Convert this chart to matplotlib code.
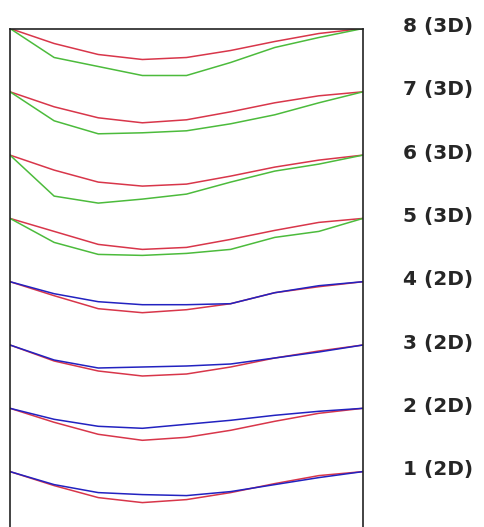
import matplotlib
matplotlib.use("Agg")
import matplotlib.pyplot as plt

# 9 sample points per curve, depth of dip below each curve's baseline
steps = list(range(9))
labels = ["1 (2D)", "2 (2D)", "3 (2D)", "4 (2D)", "5 (3D)", "6 (3D)", "7 (3D)", "8 (3D)"]

red_1 = [0, 14, 26, 31, 28, 21, 12, 4, 0]
red_2 = [0, 14, 26, 32, 29, 22, 13, 5, 0]
red_3 = [0, 16, 26, 31, 29, 22, 13, 6, 0]
red_4 = [0, 14, 27, 31, 28, 22, 11, 5, 0]
red_5 = [0, 13, 26, 31, 29, 21, 12, 4, 0]
red_6 = [0, 15, 27, 31, 29, 21, 12, 5, 0]
red_7 = [0, 15, 26, 31, 28, 20, 11, 4, 0]
red_8 = [0, 15, 26, 31, 29, 22, 13, 5, 0]

other_1 = [0, 13, 21, 23, 24, 20, 13, 6, 0]
other_2 = [0, 11, 18, 20, 16, 12, 7, 3, 0]
other_3 = [0, 15, 23, 22, 21, 19, 13, 7, 0]
other_4 = [0, 12, 20, 23, 23, 22, 11, 4, 0]
other_5 = [0, 24, 36, 37, 35, 31, 19, 13, 0]
other_6 = [0, 41, 48, 44, 39, 27, 16, 9, 0]
other_7 = [0, 29, 42, 41, 39, 32, 23, 11, 0]
other_8 = [0, 29, 38, 47, 47, 34, 19, 9, 0]

reds = [red_1, red_2, red_3, red_4, red_5, red_6, red_7, red_8]
others = [other_1, other_2, other_3, other_4, other_5, other_6, other_7, other_8]

SPACING = 63.3
RED = "#d8364a"
GREEN = "#4cbb3c"
BLUE = "#2222c0"

fig = plt.figure(figsize=(4.85, 5.27), dpi=100)
top_px, bottom_px = 28.5, 527
ax = fig.add_axes([10 / 485, 0, 353 / 485, (bottom_px - top_px) / 527])

for i, (r, o) in enumerate(zip(reds, others)):
    base = i * SPACING
    col = BLUE if i < 4 else GREEN
    ax.plot(steps, [base - v for v in r], color=RED, lw=1.1)
    ax.plot(steps, [base - v for v in o], color=col, lw=1.1)
    ax.text(1.113, base + 2, labels[i], transform=ax.get_yaxis_transform(),
            va="center", ha="left", fontsize=14.5, fontweight="bold",
            color="#262626", family="DejaVu Sans", clip_on=False)

ymax = 7 * SPACING
ax.set_xlim(0, 8)
ax.set_ylim(ymax - (bottom_px - top_px), ymax)
ax.set_xticks([])
ax.set_yticks([])
ax.spines["bottom"].set_visible(False)
for s in ["top", "left", "right"]:
    ax.spines[s].set_linewidth(1.2)
    ax.spines[s].set_color("#222222")

fig.savefig("out.png", dpi=100)
